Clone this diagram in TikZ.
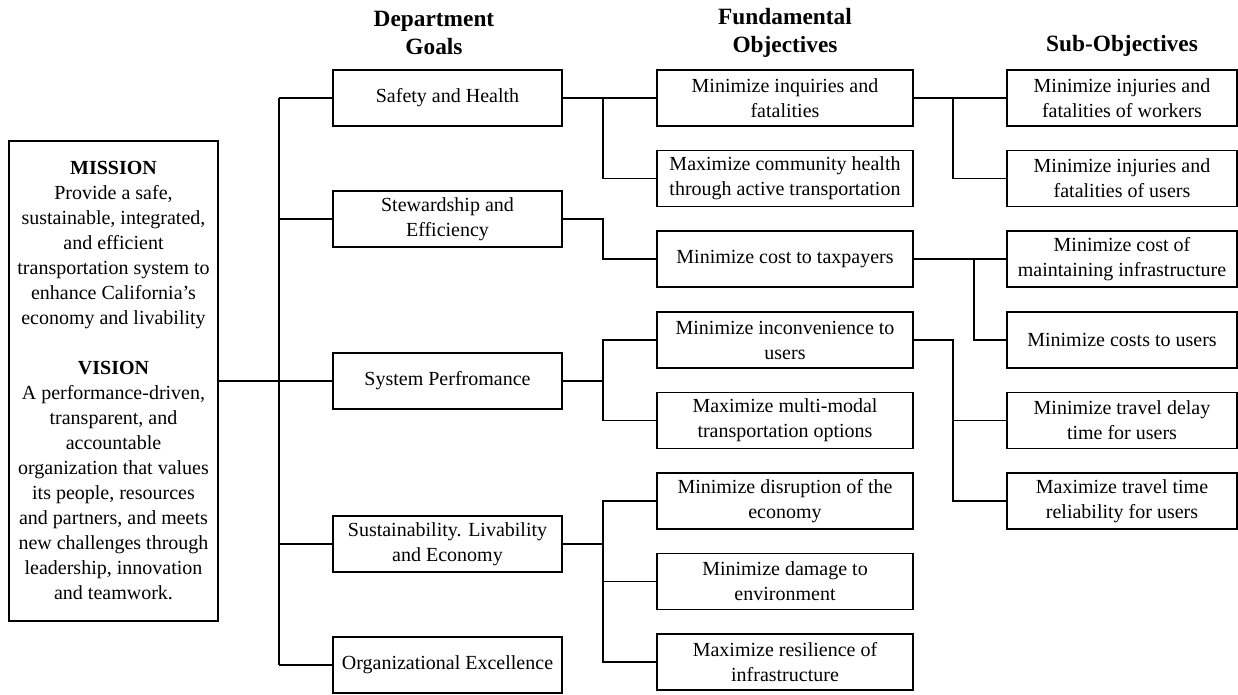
\documentclass[tikz,border=0pt]{standalone}
\usepackage{fontspec}
\setmainfont{Liberation Serif}
\begin{document}
\begin{tikzpicture}[x=0.75pt,y=-0.75pt,
  line width=0.8pt,
  txt/.style={font=\fontsize{15}{18.75}\selectfont, align=center, inner sep=0pt},
  head/.style={font=\fontsize{17.5}{21}\selectfont\bfseries, align=center, inner sep=0pt},
  goalbox/.style={txt, draw, minimum width=229*0.75pt, minimum height=56*0.75pt},
  fundbox/.style={txt, draw, minimum width=256*0.75pt, minimum height=56*0.75pt},
  subbox/.style={txt, draw, minimum width=230*0.75pt, minimum height=56*0.75pt},
  missionbox/.style={txt, draw, minimum width=209*0.75pt, minimum height=480*0.75pt}]
\useasboundingbox (0,0) rectangle (1238,694);

% column headings
\node[head] (hgoals) at (434,33) {Department\\Goals};
\node[head] (hfund) at (785,33) {Fundamental\\Objectives};
\node[head] (hsub) at (1122,46) {Sub-Objectives};

% mission and vision
\node[missionbox] (mission) at (113.5,381) {\textbf{MISSION}\\Provide a safe,\\sustainable, integrated,\\and efficient\\transportation system to\\enhance California’s\\economy and livability\\[18.75pt]\textbf{VISION}\\A performance-driven,\\transparent, and\\accountable\\organization that values\\its people, resources\\and partners, and meets\\new challenges through\\leadership, innovation\\and teamwork.};

% department goals
\node[goalbox] (g1) at (447.5,98) {Safety and Health};
\node[goalbox] (g2) at (447.5,219) {Stewardship and\\Efficiency};
\node[goalbox] (g3) at (447.5,381) {System Perfromance};
\node[goalbox] (g4) at (447.5,544) {Sustainability. Livability\\and Economy};
\node[goalbox] (g5) at (447.5,665) {Organizational Excellence};

% fundamental objectives
\node[fundbox] (f1) at (785,98) {Minimize inquiries and\\fatalities};
\node[fundbox] (f2) at (785,178.5) {Maximize community health\\through active transportation};
\node[fundbox] (f3) at (785,259) {Minimize cost to taxpayers};
\node[fundbox] (f4) at (785,340) {Minimize inconvenience to\\users};
\node[fundbox] (f5) at (785,420.5) {Maximize multi-modal\\transportation options};
\node[fundbox] (f6) at (785,501) {Minimize disruption of the\\economy};
\node[fundbox] (f7) at (785,581.5) {Minimize damage to\\environment};
\node[fundbox] (f8) at (785,662) {Maximize resilience of\\infrastructure};

% sub-objectives
\node[subbox] (s1) at (1122,98) {Minimize injuries and\\fatalities of workers};
\node[subbox] (s2) at (1122,178.5) {Minimize injuries and\\fatalities of users};
\node[subbox] (s3) at (1122,259) {Minimize cost of\\maintaining infrastructure};
\node[subbox] (s4) at (1122,340) {Minimize costs to users};
\node[subbox] (s5) at (1122,420.5) {Minimize travel delay\\time for users};
\node[subbox] (s6) at (1122,501) {Maximize travel time\\reliability for users};

% bus lines
\coordinate (t0) at (279,0);
\coordinate (b1) at (603,0);
\coordinate (b2) at (953,0);
\coordinate (b3) at (974,0);

% mission to goals
\draw (mission.east) -- (mission.east -| t0);
\draw (g1.west -| t0) -- (g5.west -| t0);
\foreach \g in {g1,g2,g3,g4,g5} \draw (\g.west) -- (\g.west -| t0);

% goals to fundamental objectives
\draw (g1.east) -- (f1.west);
\draw (g1.east -| b1) |- (f2.west);
\draw (g2.east) -| (b1 |- f3.west) -- (f3.west);
\draw (g3.east) -- (g3.east -| b1);
\draw (f4.west) -| (b1 |- g3.east) |- (f5.west);
\draw (g4.east) -- (g4.east -| b1);
\draw (f6.west) -| (b1 |- f8.west) -- (f8.west);
\draw (f7.west) -- (f7.west -| b1);

% fundamental objectives to sub-objectives
\draw (f1.east) -- (s1.west);
\draw (f1.east -| b2) |- (s2.west);
\draw (f3.east) -- (s3.west);
\draw (f3.east -| b3) |- (s4.west);
\draw (f4.east) -| (b2 |- s6.west) -- (s6.west);
\draw (s5.west) -- (s5.west -| b2);
\end{tikzpicture}
\end{document}
